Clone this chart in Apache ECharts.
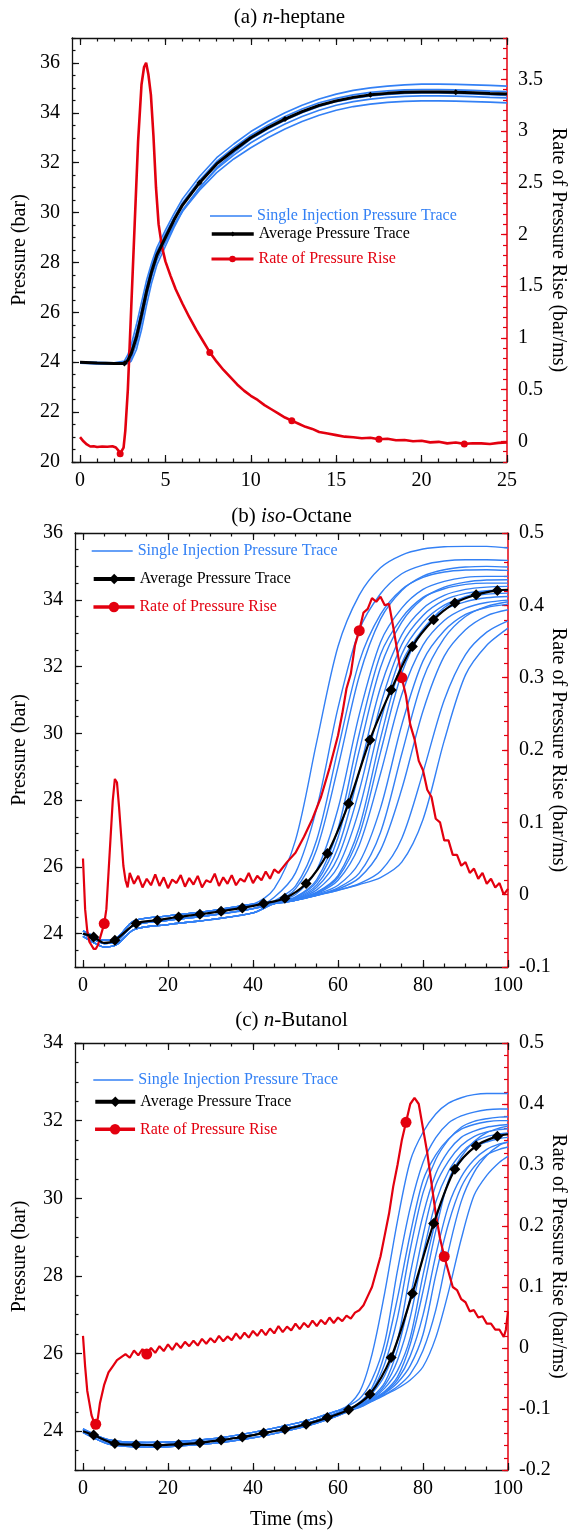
<!DOCTYPE html>
<html><head><meta charset="utf-8">
<script src="https://cdn.jsdelivr.net/npm/echarts@6/dist/echarts.min.js"></script>
<style>html,body{margin:0;padding:0;background:#fff;}.p{position:absolute;left:0;width:572px;}</style>
</head><body>
<div id="pa" class="p" style="top:0;height:500px"></div>
<div id="pb" class="p" style="top:500px;height:500px"></div>
<div id="pc" class="p" style="top:1000px;height:531px"></div>
<script>
// ---------------- DATA ----------------
// (a) n-heptane
const timeA = [0,1,2,2.6,2.8,3,3.3,3.6,3.9,4.2,4.5,5,5.5,6,7,8,9,10,11,12,13,14,15,16,17,18,19,20,21,22,23,24,25];
const singleTracesA = [
  [24.02,24.0,23.98,24.05,24.3,24.7,25.5,26.4,27.3,28.0,28.6,29.3,29.95,30.55,31.45,32.2,32.75,33.25,33.65,34.0,34.3,34.55,34.75,34.9,35.0,35.07,35.12,35.15,35.15,35.14,35.12,35.1,35.07],
  [24.0,23.98,23.96,23.98,24.15,24.5,25.2,26.1,27.05,27.85,28.45,29.15,29.8,30.4,31.3,32.05,32.6,33.1,33.5,33.85,34.15,34.4,34.58,34.72,34.82,34.88,34.92,34.93,34.93,34.92,34.9,34.87,34.85],
  [23.98,23.95,23.94,23.95,24.05,24.3,25.0,25.9,26.9,27.7,28.3,29.0,29.7,30.3,31.2,31.95,32.5,33.0,33.4,33.75,34.05,34.3,34.48,34.62,34.72,34.78,34.82,34.83,34.83,34.82,34.8,34.77,34.75],
  [23.96,23.93,23.92,23.93,23.98,24.15,24.75,25.6,26.6,27.45,28.1,28.8,29.5,30.1,31.0,31.75,32.3,32.8,33.2,33.55,33.85,34.1,34.3,34.45,34.55,34.62,34.66,34.68,34.68,34.67,34.65,34.62,34.6],
  [23.97,23.95,23.93,23.93,23.95,24.05,24.5,25.3,26.3,27.2,27.9,28.65,29.4,30.05,31.0,31.8,32.4,32.95,33.35,33.7,34.0,34.25,34.45,34.58,34.68,34.74,34.78,34.8,34.8,34.78,34.76,34.73,34.7],
  [23.99,23.96,23.95,23.96,24.1,24.4,25.1,25.95,26.85,27.6,28.2,28.85,29.5,30.05,30.9,31.6,32.15,32.6,33.0,33.35,33.65,33.9,34.1,34.25,34.35,34.42,34.46,34.48,34.48,34.47,34.45,34.43,34.4]
];
const avgA = [24.0,23.97,23.95,23.95,24.08,24.35,25.0,25.9,26.85,27.65,28.3,29.0,29.7,30.3,31.2,31.95,32.5,33.0,33.4,33.75,34.05,34.3,34.48,34.62,34.72,34.78,34.82,34.83,34.83,34.82,34.8,34.77,34.75];
const avgMarkA = [3,14,19,24,29];
const timeRateA = [0,0.2,0.4,0.6,0.8,1.0,1.3,1.6,1.9,2.1,2.25,2.35,2.45,2.55,2.65,2.8,3.0,3.2,3.4,3.6,3.75,3.87,4.0,4.15,4.3,4.45,4.6,4.8,5.0,5.3,5.6,6.0,6.4,6.8,7.2,7.6,8.0,8.4,8.8,9.2,9.6,10.0,10.4,10.8,11.2,11.6,12.0,12.4,12.8,13.2,13.6,14.0,14.5,15,15.5,16,16.5,17,17.5,18,18.5,19,19.5,20,20.5,21,21.5,22,22.5,23,23.5,24,24.5,25];
const rateA = [0.04,0.0,-0.03,-0.05,-0.048,-0.055,-0.05,-0.053,-0.048,-0.06,-0.09,-0.12,-0.11,-0.06,0.1,0.5,1.3,2.1,2.9,3.45,3.62,3.66,3.55,3.35,2.95,2.45,2.1,1.88,1.74,1.6,1.47,1.33,1.2,1.08,0.97,0.86,0.77,0.69,0.62,0.55,0.49,0.44,0.4,0.35,0.31,0.27,0.23,0.2,0.17,0.14,0.12,0.09,0.075,0.06,0.045,0.04,0.03,0.035,0.02,0.025,0.01,0.012,0.0,0.005,-0.01,-0.005,-0.02,-0.012,-0.025,-0.018,-0.02,-0.026,-0.015,-0.01];
const rateMarkA = [11,35,47,58,68];

// (b) iso-Octane
const timeB = [0,3,5,8,12,20,30,40,45,50,55,60,65,70,75,80,85,90,95,100];
const singleTracesB = [
  [24.08,23.9,23.8,23.88,24.38,24.53,24.68,24.88,25.35,26.8,29.75,32.6,34.14,34.96,35.34,35.52,35.59,35.6,35.6,35.55],
  [24.0,23.8,23.7,23.78,24.25,24.4,24.55,24.75,25.09,25.82,27.76,30.76,33.09,34.18,34.78,35.04,35.16,35.2,35.2,35.18],
  [23.92,23.7,23.6,23.68,24.12,24.27,24.42,24.62,24.98,25.42,26.81,29.52,32.14,33.56,34.31,34.67,34.83,34.89,34.9,34.88],
  [24.08,23.9,23.8,23.88,24.38,24.53,24.68,24.88,24.96,25.34,26.53,28.99,31.71,33.42,34.28,34.71,34.9,34.98,35.0,34.98],
  [24.0,23.8,23.7,23.78,24.25,24.4,24.55,24.75,24.93,25.17,25.91,27.74,30.56,32.73,33.75,34.31,34.55,34.67,34.7,34.7],
  [23.92,23.7,23.6,23.68,24.12,24.27,24.42,24.62,24.92,25.1,25.62,27.14,29.98,32.36,33.45,34.07,34.33,34.46,34.5,34.5],
  [24.0,23.8,23.7,23.78,24.25,24.4,24.55,24.75,24.91,25.08,25.55,26.88,29.48,31.97,33.33,34.04,34.38,34.53,34.59,34.6],
  [24.08,23.9,23.8,23.88,24.38,24.53,24.68,24.88,24.91,25.06,25.46,26.57,28.85,31.37,32.95,33.74,34.13,34.31,34.38,34.4],
  [23.92,23.7,23.6,23.68,24.12,24.27,24.42,24.62,24.9,25.04,25.39,26.29,28.28,30.85,32.66,33.53,33.99,34.19,34.27,34.3],
  [24.0,23.8,23.7,23.78,24.25,24.4,24.55,24.75,24.9,25.03,25.31,26.01,27.73,30.35,32.37,33.32,33.84,34.06,34.17,34.2],
  [24.08,23.9,23.8,23.88,24.38,24.53,24.68,24.88,24.9,25.02,25.24,25.74,27.18,29.85,32.1,33.12,33.7,33.94,34.06,34.1],
  [23.92,23.7,23.6,23.68,24.12,24.27,24.42,24.62,24.9,25.01,25.22,25.68,26.95,29.43,31.8,33.09,33.77,34.09,34.24,34.3],
  [24.0,23.8,23.7,23.78,24.25,24.4,24.55,24.75,24.9,25.0,25.2,25.6,26.65,28.79,31.16,32.64,33.38,33.75,33.92,33.99],
  [24.08,23.9,23.8,23.88,24.38,24.53,24.68,24.88,24.9,25.0,25.18,25.45,26.13,27.76,30.25,32.17,33.07,33.56,33.77,33.87],
  [23.92,23.7,23.6,23.68,24.12,24.27,24.42,24.62,24.9,25.0,25.15,25.37,25.81,27.03,29.38,31.63,32.85,33.5,33.8,33.94],
  [24.0,23.8,23.7,23.78,24.25,24.4,24.55,24.75,24.9,25.0,25.15,25.33,25.67,26.5,28.33,30.67,32.31,33.1,33.52,33.7],
  [24.08,23.9,23.8,23.88,24.38,24.53,24.68,24.88,24.9,25.0,25.15,25.3,25.5,25.87,26.85,28.83,31.0,32.36,33.03,33.37],
  [23.92,23.7,23.6,23.68,24.12,24.27,24.42,24.62,24.9,25.0,25.15,25.3,25.47,25.68,26.14,27.42,29.78,31.75,32.64,33.15]
];
const timeAvgB = [0,2.5,5,7.5,12.5,17.5,22.5,27.5,32.5,37.5,42.5,47.5,52.5,57.5,62.5,67.5,72.5,77.5,82.5,87.5,92.5,97.5,100];
const avgB = [24.0,23.9,23.72,23.8,24.3,24.4,24.5,24.58,24.67,24.77,24.9,25.06,25.5,26.4,27.9,29.8,31.3,32.6,33.4,33.9,34.15,34.28,34.3];
const avgMarkB = [1,3,4,5,6,7,8,9,10,11,12,13,14,15,16,17,18,19,20,21];
const timeRateB = [0,0.5,1,1.5,2,2.5,3,3.5,4,4.5,5,5.5,6,6.5,7,7.5,8,8.5,9,9.5,10,10.5,11,
  12,13,14,15,16,17,18,19,20,21,22,23,24,25,26,27,28,29,30,31,32,33,34,35,36,37,38,39,40,41,42,43,44,45,46,
  48,50,52,54,56,58,60,
  61,62,63,64,65,66,67,68,69,70,71,72,73,74,75,76,77,78,79,80,81,82,83,84,85,86,87,88,89,90,91,92,93,94,95,96,97,98,99,100];
const rateB = [0.05,-0.02,-0.05,-0.065,-0.07,-0.075,-0.075,-0.07,-0.06,-0.05,-0.04,-0.02,0.03,0.08,0.13,0.16,0.155,0.12,0.08,0.04,0.02,0.01,0.03,
  0.015,0.026,0.01,0.022,0.013,0.028,0.012,0.024,0.009,0.021,0.016,0.027,0.011,0.023,0.014,0.026,0.01,0.02,0.017,0.029,0.012,0.024,0.015,0.027,0.013,0.022,0.018,0.03,0.016,0.026,0.02,0.032,0.022,0.035,0.03,
  0.045,0.058,0.08,0.105,0.135,0.175,0.22,
  0.25,0.285,0.305,0.345,0.365,0.39,0.395,0.41,0.405,0.412,0.4,0.402,0.37,0.335,0.3,0.275,0.235,0.215,0.185,0.172,0.145,0.135,0.105,0.1,0.075,0.075,0.055,0.055,0.04,0.045,0.03,0.036,0.022,0.03,0.015,0.022,0.01,0.016,0.0,0.008];
const rateMarkB = [10,69,79];

// (c) n-Butanol
const timeC = [0,3,6,10,15,20,30,40,50,55,60,65,68,71,74,77,80,83,86,89,92,95,98,100];
const singleTracesC = [
  [24.02,23.86,23.73,23.67,23.65,23.66,23.74,23.9,24.13,24.28,24.47,25.0,25.98,27.57,29.42,30.96,31.7,32.17,32.45,32.59,32.67,32.7,32.7,32.7],
  [24.06,23.9,23.78,23.72,23.71,23.72,23.8,23.97,24.2,24.35,24.53,24.83,25.33,26.29,28.14,29.76,30.92,31.56,31.94,32.12,32.22,32.28,32.3,32.3],
  [23.97,23.8,23.67,23.61,23.59,23.6,23.68,23.83,24.06,24.21,24.4,24.74,25.12,26.0,27.43,29.08,30.46,31.12,31.53,31.78,31.9,31.97,32.0,32.0],
  [24.02,23.86,23.73,23.67,23.65,23.66,23.74,23.9,24.13,24.28,24.47,24.71,25.05,25.74,26.92,28.68,30.14,31.0,31.51,31.83,31.98,32.05,32.09,32.1],
  [24.06,23.9,23.78,23.72,23.71,23.72,23.8,23.97,24.2,24.35,24.53,24.68,24.97,25.44,26.34,28.06,29.56,30.63,31.22,31.57,31.73,31.83,31.88,31.9],
  [23.97,23.8,23.67,23.61,23.59,23.6,23.68,23.83,24.06,24.21,24.4,24.67,24.88,25.25,26.1,27.46,29.04,30.34,30.96,31.36,31.59,31.71,31.77,31.79],
  [24.02,23.86,23.73,23.67,23.65,23.66,23.74,23.9,24.13,24.28,24.47,24.66,24.85,25.18,25.83,26.93,28.55,29.9,30.69,31.16,31.45,31.59,31.66,31.68],
  [24.06,23.9,23.78,23.72,23.71,23.72,23.8,23.97,24.2,24.35,24.53,24.65,24.83,25.11,25.56,26.41,28.02,29.42,30.42,30.97,31.3,31.45,31.54,31.57],
  [23.97,23.8,23.67,23.61,23.59,23.6,23.68,23.83,24.06,24.21,24.4,24.64,24.82,25.03,25.4,26.24,27.6,29.16,30.46,31.07,31.46,31.69,31.81,31.86],
  [24.02,23.86,23.73,23.67,23.65,23.66,23.74,23.9,24.13,24.28,24.47,24.63,24.8,25.0,25.32,25.94,26.99,28.53,29.81,30.55,30.99,31.26,31.4,31.44],
  [24.06,23.9,23.78,23.72,23.71,23.72,23.8,23.97,24.2,24.35,24.53,24.62,24.79,24.98,25.25,25.69,26.49,28.02,29.35,30.29,30.81,31.12,31.26,31.32],
  [23.97,23.8,23.67,23.61,23.59,23.6,23.68,23.83,24.06,24.21,24.4,24.62,24.78,24.94,25.15,25.47,26.08,27.12,28.65,29.92,30.66,31.1,31.37,31.45],
  [24.02,23.86,23.73,23.67,23.65,23.66,23.74,23.9,24.13,24.28,24.47,24.61,24.77,24.93,25.1,25.32,25.66,26.41,27.59,28.95,30.07,30.59,30.93,31.08]
];
const timeAvgC = [0,2.5,7.5,12.5,17.5,22.5,27.5,32.5,37.5,42.5,47.5,52.5,57.5,62.5,67.5,72.5,77.5,82.5,87.5,92.5,97.5,100];
const avgC = [24.0,23.9,23.68,23.65,23.64,23.66,23.7,23.77,23.85,23.95,24.05,24.18,24.35,24.55,24.95,25.9,27.55,29.35,30.75,31.35,31.6,31.65];
const avgMarkC = [1,2,3,4,5,6,7,8,9,10,11,12,13,14,15,16,17,18,19,20];
const timeRateC = [0,0.5,1,1.5,2,2.5,3,3.5,4,5,6,7,8,9,
  10,11,12,13,14,15,16,17,18,19,20,21,22,23,24,25,26,27,28,29,30,31,32,33,34,35,36,37,38,39,40,41,42,43,44,45,46,47,48,49,50,51,52,53,54,55,56,57,58,59,60,61,62,63,64,
  65,66,67,68,69,70,71,72,73,74,75,76,77,78,79,80,81,82,83,84,85,86,87,88,89,90,91,92,93,94,95,96,97,98,99,99.5,100];
const rateC = [0.02,-0.03,-0.07,-0.09,-0.11,-0.12,-0.125,-0.115,-0.09,-0.06,-0.04,-0.03,-0.02,-0.015,
  -0.01,-0.016,-0.004,-0.012,-0.002,-0.01,0.0,-0.008,0.003,-0.005,0.006,-0.003,0.008,0.0,0.01,0.003,0.012,0.004,0.015,0.007,0.016,0.009,0.02,0.011,0.019,0.013,0.024,0.015,0.025,0.017,0.028,0.02,0.03,0.021,0.032,0.024,0.036,0.026,0.035,0.029,0.04,0.031,0.041,0.034,0.045,0.036,0.046,0.039,0.05,0.041,0.05,0.044,0.053,0.048,0.058,
  0.062,0.07,0.085,0.1,0.125,0.15,0.185,0.22,0.265,0.3,0.34,0.37,0.4,0.41,0.4,0.36,0.32,0.27,0.22,0.18,0.15,0.125,0.1,0.095,0.08,0.075,0.06,0.062,0.05,0.052,0.04,0.04,0.03,0.03,0.018,0.03,0.06];
const rateMarkC = [6,19,80,89];

// tick labels
const xLabelsA = [0,5,10,15,20,25];
const xLabelsBC = [0,20,40,60,80,100];
const yLeftLabelsA = [20,22,24,26,28,30,32,34,36];
const yRightLabelsA = [0,0.5,1,1.5,2,2.5,3,3.5];
const yLeftLabelsB = [24,26,28,30,32,34,36];
const yRightLabelsB = [-0.1,0,0.1,0.2,0.3,0.4,0.5];
const yLeftLabelsC = [24,26,28,30,32,34];
const yRightLabelsC = [-0.2,-0.1,0,0.1,0.2,0.3,0.4,0.5];

// ---------------- STYLE / HELPERS ----------------
const FONT = "'Liberation Serif','Times New Roman',serif";
const BLUE = '#3380f5', RED = '#e3000f', AXC = '#111';
const NAME_SINGLE = 'Single Injection Pressure Trace', NAME_AVG = 'Average Pressure Trace', NAME_RATE = 'Rate of Pressure Rise';

function range(a, b, s) { const o = []; for (let v = a; v <= b + 1e-9; v += s) o.push(Math.round(v * 1000) / 1000); return o; }
function pairs(xs, ys) { return xs.map((x, i) => [x, ys[i]]); }
function marked(xs, ys, idx) { return xs.map((x, i) => idx.indexOf(i) >= 0 ? [x, ys[i]] : { value: [x, ys[i]], symbol: 'none' }); }

function xAxes(min, max, major, minor) {
  const base = { type: 'value', min: min, max: max, splitLine: { show: false } };
  const line = { show: true, onZero: false, lineStyle: { color: AXC, width: 1.3 } };
  const noLine = { show: false, onZero: false };
  const tk = (vals, len) => ({ show: true, inside: true, length: len, customValues: vals, lineStyle: { color: AXC, width: 1.2 } });
  return [
    Object.assign({}, base, { position: 'bottom', axisLine: line, axisTick: tk(major, 7),
      axisLabel: { show: true, customValues: major, margin: 9, color: '#000', fontFamily: FONT, fontSize: 20 } }),
    Object.assign({}, base, { position: 'bottom', axisLine: noLine, axisTick: tk(minor, 3.5), axisLabel: { show: false } }),
    Object.assign({}, base, { position: 'top', axisLine: line, axisTick: tk(major, 7), axisLabel: { show: false } }),
    Object.assign({}, base, { position: 'top', axisLine: noLine, axisTick: tk(minor, 3.5), axisLabel: { show: false } })
  ];
}
function yAxes(lmin, lmax, lmaj, lminor, rmin, rmax, rmaj, rminor) {
  const lab = (vals, m) => ({ show: true, customValues: vals, margin: m, color: '#000', fontFamily: FONT, fontSize: 20 });
  const tk = (vals, len, c) => ({ show: true, inside: true, length: len, customValues: vals, lineStyle: { color: c, width: 1.2 } });
  return [
    { type: 'value', position: 'left', min: lmin, max: lmax, splitLine: { show: false },
      axisLine: { show: true, onZero: false, lineStyle: { color: AXC, width: 1.3 } }, axisTick: tk(lmaj, 7, AXC), axisLabel: lab(lmaj, 12) },
    { type: 'value', position: 'left', min: lmin, max: lmax, splitLine: { show: false },
      axisLine: { show: false, onZero: false }, axisTick: tk(lminor, 3.5, AXC), axisLabel: { show: false } },
    { type: 'value', position: 'right', min: rmin, max: rmax, splitLine: { show: false },
      axisLine: { show: true, onZero: false, lineStyle: { color: RED, width: 1.5 } }, axisTick: tk(rmaj, 6, RED), axisLabel: lab(rmaj, 11) },
    { type: 'value', position: 'right', min: rmin, max: rmax, splitLine: { show: false },
      axisLine: { show: false, onZero: false }, axisTick: tk(rminor, 4, RED), axisLabel: { show: false } }
  ];
}
function txt(x, y, text, rot, size) {
  return { type: 'text', x: x, y: y, rotation: rot || 0, silent: true,
    style: { text: text, fill: '#000', fontFamily: FONT, fontSize: size || 20, align: 'center', verticalAlign: 'middle', textAlign: 'center', textVerticalAlign: 'middle' } };
}
function richTitle(x, y, parts) {
  return { type: 'text', x: x, y: y, silent: true,
    style: { text: parts, align: 'center', verticalAlign: 'middle', textAlign: 'center', textVerticalAlign: 'middle',
      rich: { t: { fontFamily: FONT, fontSize: 21, fill: '#000' }, i: { fontFamily: FONT, fontSize: 21, fontStyle: 'italic', fill: '#000' } } } };
}
function legends(left, rows, w, hAvg, hRate, lwAvg, lwRate) {
  const common = { left: left, padding: 0, itemGap: 0, selectedMode: false, itemWidth: w };
  const ts = c => ({ color: c, fontSize: 16, fontFamily: FONT });
  return [
    Object.assign({}, common, { top: rows[0] - 8, itemHeight: 1.5, data: [{ name: NAME_SINGLE, icon: 'rect' }], textStyle: ts(BLUE) }),
    Object.assign({}, common, { top: rows[1] - 8, itemHeight: hAvg, data: [NAME_AVG], lineStyle: { width: lwAvg }, textStyle: ts('#000') }),
    Object.assign({}, common, { top: rows[2] - 8, itemHeight: hRate, data: [NAME_RATE], lineStyle: { width: lwRate }, textStyle: ts(RED) })
  ];
}
function buildSeries(tx, traces, blueW, smooth, ax, ay, aMark, aSize, aW, rx, ry, rMark, rSize, rW) {
  const s = traces.map(tr => ({ type: 'line', name: NAME_SINGLE, data: pairs(tx, tr), symbol: 'none', smooth: smooth,
    lineStyle: { color: BLUE, width: blueW }, itemStyle: { color: BLUE }, z: 2, silent: true }));
  s.push({ type: 'line', name: NAME_AVG, data: marked(ax, ay, aMark), symbol: 'diamond', symbolSize: aSize, smooth: smooth ? 0.3 : false,
    lineStyle: { color: '#000', width: aW }, itemStyle: { color: '#000' }, z: 4, silent: true });
  s.push({ type: 'line', name: NAME_RATE, yAxisIndex: 2, data: marked(rx, ry, rMark), symbol: 'circle', symbolSize: rSize,
    lineStyle: { color: RED, width: rW }, itemStyle: { color: RED }, z: 3, silent: true });
  return s;
}

// ---------------- PANEL A ----------------
const chartA = echarts.init(document.getElementById('pa'));
chartA.setOption({
  animation: false, backgroundColor: '#fff',
  grid: { left: 72, top: 38, width: 435, height: 424, show: false },
  xAxis: xAxes(-0.47, 25, xLabelsA, range(0, 25, 1)),
  yAxis: yAxes(20, 37, yLeftLabelsA, range(20, 37, 0.5), -0.2, 3.9, yRightLabelsA, range(-0.2, 3.9, 0.1)),
  legend: legends(210, [216, 234, 259], 42, 6, 8, 3.5, 3),
  series: buildSeries(timeA, singleTracesA, 1.6, false, timeA, avgA, avgMarkA, 6, 3, timeRateA, rateA, rateMarkA, 7, 2.6),
  graphic: [
    richTitle(289.5, 17, '{t|(a) }{i|n}{t|-heptane}'),
    txt(20, 250, 'Pressure (bar)', Math.PI / 2),
    txt(558, 250, 'Rate of Pressure Rise (bar/ms)', -Math.PI / 2)
  ]
});

// ---------------- PANEL B ----------------
const chartB = echarts.init(document.getElementById('pb'));
chartB.setOption({
  animation: false, backgroundColor: '#fff',
  grid: { left: 75, top: 33, width: 433, height: 434, show: false },
  xAxis: xAxes(-1.88, 100, xLabelsBC, range(0, 100, 5)),
  yAxis: yAxes(23, 36, yLeftLabelsB, range(23, 36, 0.5), -0.1, 0.5, yRightLabelsB, range(-0.1, 0.5, 0.02)),
  legend: legends(91.7, [51, 79, 107], 41, 13, 13, 4, 3.5),
  series: buildSeries(timeB, singleTracesB, 1.4, 0.3, timeAvgB, avgB, avgMarkB, 11, 2.2, timeRateB, rateB, rateMarkB, 11, 2.2),
  graphic: [
    richTitle(291.5, 16, '{t|(b) }{i|iso}{t|-Octane}'),
    txt(20, 250, 'Pressure (bar)', Math.PI / 2),
    txt(558, 250, 'Rate of Pressure Rise (bar/ms)', -Math.PI / 2)
  ]
});

// ---------------- PANEL C ----------------
const chartC = echarts.init(document.getElementById('pc'));
chartC.setOption({
  animation: false, backgroundColor: '#fff',
  grid: { left: 75, top: 43, width: 433, height: 427, show: false },
  xAxis: xAxes(-1.88, 100, xLabelsBC, range(0, 100, 5)),
  yAxis: yAxes(23, 34, yLeftLabelsC, range(23, 34, 0.5), -0.2, 0.5, yRightLabelsC, range(-0.2, 0.5, 0.02)),
  legend: legends(93.3, [80, 101.7, 129.3], 40, 13, 13, 4, 3.5),
  series: buildSeries(timeC, singleTracesC, 1.4, 0.3, timeAvgC, avgC, avgMarkC, 11, 2.2, timeRateC, rateC, rateMarkC, 11, 2.2),
  graphic: [
    richTitle(291.5, 20, '{t|(c) }{i|n}{t|-Butanol}'),
    txt(20, 256.5, 'Pressure (bar)', Math.PI / 2),
    txt(558, 256.5, 'Rate of Pressure Rise (bar/ms)', -Math.PI / 2),
    txt(291.5, 520, 'Time (ms)', 0)
  ]
});
</script>
</body></html>
